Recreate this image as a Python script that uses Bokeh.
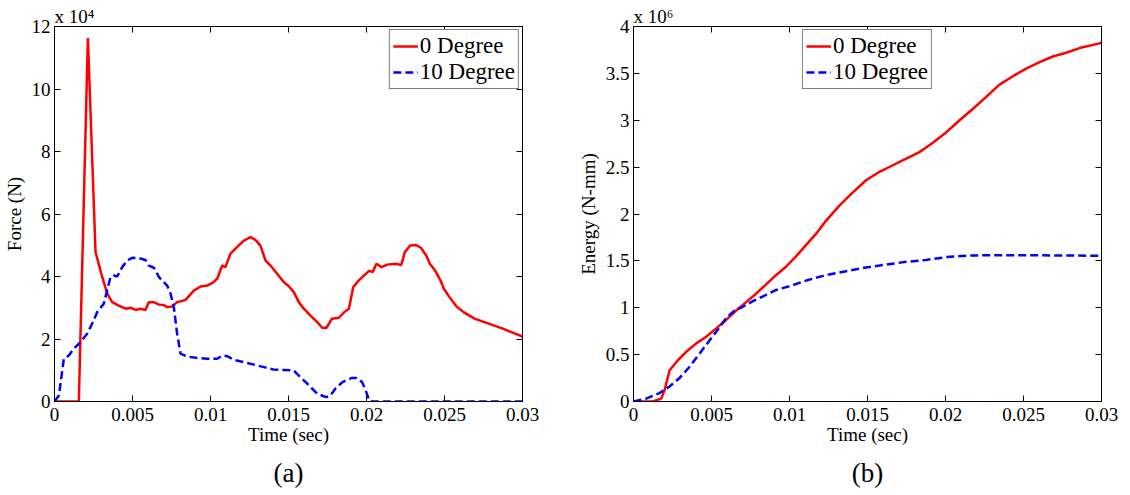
from bokeh.plotting import figure
from bokeh.models import LinearAxis, FixedTicker, Range1d, Legend, LegendItem, Title
from bokeh.layouts import row
from bokeh.embed import file_html
from bokeh.resources import INLINE

FONT = "Liberation Serif"

# ---------------- data ----------------
time_ticks = [0, 0.005, 0.01, 0.015, 0.02, 0.025, 0.03]
time_tick_labels = ["0", "0.005", "0.01", "0.015", "0.02", "0.025", "0.03"]
force_ticks = [0, 2, 4, 6, 8, 10, 12]
force_tick_labels = ["0", "2", "4", "6", "8", "10", "12"]
energy_ticks = [0, 0.5, 1, 1.5, 2, 2.5, 3, 3.5, 4]
energy_tick_labels = ["0", "0.5", "1", "1.5", "2", "2.5", "3", "3.5", "4"]

# Force (x 10^4 N), 0 Degree
force0_t = [0, 0.00156, 0.00214, 0.00263, 0.0030, 0.00338, 0.0037, 0.00412, 0.00455, 0.00487,
            0.0052, 0.0055, 0.00583, 0.00605, 0.00637, 0.0067, 0.0070, 0.00722, 0.00754, 0.00786,
            0.0084, 0.00893, 0.00936, 0.00979, 0.0102, 0.01043, 0.01075, 0.01096, 0.01128, 0.0117,
            0.01214, 0.01256, 0.01288, 0.0132, 0.01353, 0.01385, 0.01427, 0.0147, 0.01502, 0.01534,
            0.01566, 0.01598, 0.01641, 0.01684, 0.01716, 0.01744, 0.01778, 0.01823, 0.01858, 0.01887,
            0.01915, 0.01949, 0.01983, 0.02018, 0.0204, 0.02063, 0.02097, 0.02132, 0.02189, 0.02223,
            0.02246, 0.0228, 0.02315, 0.02349, 0.02383, 0.02406, 0.0244, 0.02475, 0.02497, 0.02532,
            0.02577, 0.02623, 0.02692, 0.02783, 0.02874, 0.03]
force0_v = [0, 0, 11.63, 4.78, 4.09, 3.45, 3.18, 3.07, 2.97, 3.0,
            2.93, 2.97, 2.93, 3.18, 3.18, 3.1, 3.09, 3.02, 3.04, 3.18,
            3.25, 3.55, 3.68, 3.71, 3.82, 3.93, 4.35, 4.3, 4.73, 4.94,
            5.15, 5.26, 5.17, 4.99, 4.51, 4.35, 4.09, 3.82, 3.69, 3.5,
            3.18, 2.97, 2.75, 2.54, 2.36, 2.36, 2.65, 2.68, 2.86, 2.97,
            3.66, 3.87, 4.03, 4.19, 4.14, 4.41, 4.3, 4.38, 4.41, 4.37,
            4.78, 4.99, 5.01, 4.92, 4.67, 4.41, 4.19, 3.87, 3.6, 3.34,
            3.04, 2.86, 2.65, 2.49, 2.33, 2.08]

# Force (x 10^4 N), 10 Degree
force10_t = [0, 0.00028, 0.0006, 0.00092, 0.00124, 0.00167, 0.00209, 0.00241, 0.00274, 0.00316,
             0.00359, 0.0038, 0.00402, 0.00434, 0.00466, 0.00498, 0.00541, 0.00583, 0.00605, 0.00637,
             0.0067, 0.0070, 0.00722, 0.00744, 0.00765, 0.00786, 0.00808, 0.0085, 0.00915, 0.00979,
             0.01043, 0.01075, 0.01107, 0.0115, 0.01214, 0.01278, 0.01342, 0.01406, 0.0147, 0.01534,
             0.01566, 0.0162, 0.01684, 0.0174, 0.01769, 0.018, 0.01846, 0.01903, 0.01937, 0.01972,
             0.01995, 0.02018, 0.0204, 0.03]
force10_v = [0, 0.19, 1.37, 1.47, 1.69, 1.9, 2.17, 2.49, 2.86, 3.13,
             3.98, 4.03, 4.0, 4.3, 4.51, 4.6, 4.59, 4.53, 4.35, 4.28,
             3.98, 3.82, 3.71, 3.45, 3.02, 2.17, 1.53, 1.44, 1.39, 1.37,
             1.37, 1.47, 1.45, 1.33, 1.26, 1.18, 1.10, 1.02, 1.01, 0.99,
             0.83, 0.57, 0.25, 0.14, 0.19, 0.41, 0.62, 0.75, 0.75, 0.62,
             0.35, 0.03, 0, 0]

# Energy (x 10^6 N-mm), 0 Degree
energy0_t = [0, 0.00124, 0.00177, 0.00199, 0.00231, 0.00284, 0.00338, 0.00402, 0.00466, 0.0053,
             0.00594, 0.00658, 0.00722, 0.00786, 0.0085, 0.00915, 0.00979, 0.01043, 0.01107, 0.01171,
             0.01235, 0.0132, 0.01406, 0.01491, 0.01577, 0.01662, 0.01748, 0.01833, 0.01919, 0.02004,
             0.0209, 0.02175, 0.02261, 0.02346, 0.02432, 0.02517, 0.02603, 0.02688, 0.02774, 0.02859,
             0.02987, 0.03]
energy0_v = [0, 0, 0.03, 0.12, 0.33, 0.44, 0.53, 0.62, 0.69, 0.78,
             0.87, 0.97, 1.06, 1.15, 1.25, 1.35, 1.44, 1.55, 1.67, 1.79,
             1.93, 2.09, 2.23, 2.36, 2.45, 2.52, 2.59, 2.66, 2.76, 2.87,
             3.0, 3.12, 3.25, 3.38, 3.47, 3.55, 3.62, 3.68, 3.72, 3.77,
             3.82, 3.83]

# Energy (x 10^6 N-mm), 10 Degree
energy10_t = [0, 0.00081, 0.00167, 0.00231, 0.00295, 0.00359, 0.00423, 0.00487, 0.00551, 0.00594,
              0.00647, 0.007, 0.00765, 0.00829, 0.00915, 0.01, 0.01107, 0.01235, 0.01363, 0.01491,
              0.0162, 0.01748, 0.01876, 0.02004, 0.02132, 0.0226, 0.025, 0.03]
energy10_v = [0, 0.03, 0.09, 0.16, 0.25, 0.37, 0.51, 0.65, 0.79, 0.89,
              0.97, 1.01, 1.07, 1.12, 1.19, 1.23, 1.29, 1.35, 1.39, 1.43,
              1.46, 1.49, 1.51, 1.54, 1.555, 1.56, 1.56, 1.555]

series_names = ["0 Degree", "10 Degree"]

assert len(force0_t) == len(force0_v)
assert len(force10_t) == len(force10_v)
assert len(energy0_t) == len(energy0_v)
assert len(energy10_t) == len(energy10_v)


def style_axis(ax, ticks, labels, show_labels=True):
    ax.ticker = FixedTicker(ticks=ticks)
    ax.major_tick_in = 6
    ax.major_tick_out = 0
    ax.minor_tick_in = 0
    ax.minor_tick_out = 0
    ax.axis_line_color = "black"
    ax.axis_line_width = 1
    ax.major_tick_line_color = "black"
    ax.major_label_text_font = FONT
    ax.major_label_text_color = "black"
    ax.major_label_text_font_size = "19px"
    ax.axis_label_text_font = FONT
    ax.axis_label_text_font_style = "normal"
    ax.axis_label_text_color = "black"
    ax.axis_label_text_font_size = "19px"
    if show_labels:
        ax.major_label_overrides = {t: l for t, l in zip(ticks, labels)}
    else:
        ax.major_label_overrides = {t: "" for t in ticks}
        ax.major_label_standoff = 0


def make_panel(yticks, ylabels, ymax, series, exp_text, caption,
               border_left, border_right, legend_loc, ylabel):
    p = figure(width=565, height=495, output_backend="svg", toolbar_location=None,
               x_range=Range1d(0, 0.03), y_range=Range1d(0, ymax),
               min_border_left=border_left, min_border_right=border_right,
               min_border_top=26, min_border_bottom=94)
    p.xgrid.visible = False
    p.ygrid.visible = False
    p.outline_line_color = "black"
    p.outline_line_width = 1
    p.background_fill_color = "white"
    p.border_fill_color = "white"

    style_axis(p.xaxis[0], time_ticks, time_tick_labels)
    p.xaxis[0].axis_label = "Time (sec)"
    p.xaxis[0].axis_label_standoff = 0
    p.xaxis[0].major_label_standoff = 6
    style_axis(p.yaxis[0], yticks, ylabels)
    p.yaxis[0].axis_label = ylabel
    p.yaxis[0].axis_label_standoff = 4
    p.yaxis[0].major_label_standoff = 4

    top = LinearAxis()
    style_axis(top, time_ticks, time_tick_labels, show_labels=False)
    p.add_layout(top, "above")
    right = LinearAxis()
    style_axis(right, yticks, ylabels, show_labels=False)
    p.add_layout(right, "right")

    items = []
    for (tx, vy, color, dash), name in zip(series, series_names):
        r = p.line(tx, vy, line_color=color, line_width=2.5, line_dash=dash)
        items.append(LegendItem(label=name, renderers=[r]))

    legend = Legend(items=items, location=legend_loc, margin=3, padding=3, spacing=0,
                    label_standoff=2, glyph_width=25, glyph_height=22,
                    label_text_font=FONT, label_text_font_size="23px",
                    label_text_color="black", label_height=22,
                    border_line_color="black", border_line_width=1.5,
                    background_fill_color="white", background_fill_alpha=1)
    p.add_layout(legend, "center")

    p.add_layout(Title(text="x 10" + exp_text, align="left", text_font=FONT,
                       text_font_size="19px", text_font_style="normal",
                       text_color="black", standoff=0, offset=0), "above")
    p.add_layout(Title(text=caption, align="center", text_font=FONT,
                       text_font_size="27px", text_font_style="normal",
                       text_color="black", standoff=16, offset=-10), "below")
    return p


p1 = make_panel(force_ticks, force_tick_labels, 12,
                [(force0_t, force0_v, "#ff0000", "solid"),
                 (force10_t, force10_v, "#0000ff", "8 4")],
                "\u2074", "(a)", 54, 43, "top_right", "Force (N)")
p2 = make_panel(energy_ticks, energy_tick_labels, 4,
                [(energy0_t, energy0_v, "#ff0000", "solid"),
                 (energy10_t, energy10_v, "#0000ff", "8 4")],
                "\u2076", "(b)", 68, 29, "top_center", "Energy (N-mm)")

layout = row(p1, p2)
open("out.html", "w").write(file_html(layout, INLINE))
